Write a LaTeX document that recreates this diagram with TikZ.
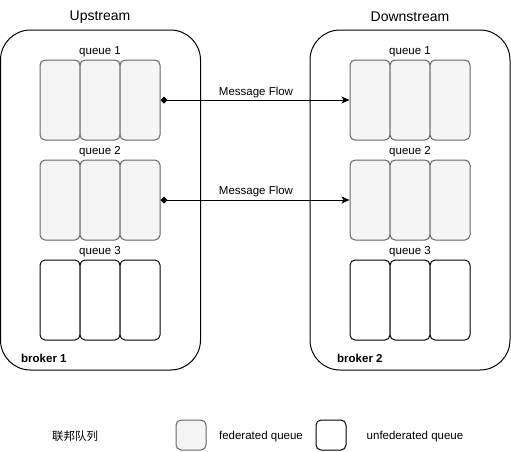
\documentclass[tikz,border=0pt]{standalone}
\usepackage{fontspec}
\setmainfont{Liberation Sans}
\newfontfamily\cjk{Noto Sans CJK SC}
\usetikzlibrary{arrows.meta}
\definecolor{fedfill}{HTML}{F5F5F5}
\definecolor{fedline}{HTML}{666666}
\tikzset{
  broker/.style={draw=black, line width=1pt, rounded corners=30pt, minimum width=200pt, minimum height=340pt, inner sep=0pt},
  fedq/.style={draw=fedline, fill=fedfill, line width=1pt, rounded corners=5pt, minimum width=40pt, minimum height=80pt, inner sep=0pt},
  unfedq/.style={draw=black, fill=white, line width=1pt, rounded corners=5pt, minimum width=40pt, minimum height=80pt, inner sep=0pt},
  legfed/.style={draw=fedline, fill=fedfill, line width=1pt, rounded corners=5pt, minimum width=30pt, minimum height=30pt, inner sep=0pt},
  legunfed/.style={draw=black, fill=white, line width=1pt, rounded corners=5pt, minimum width=30pt, minimum height=30pt, inner sep=0pt},
  lbl/.style={font=\fontsize{11.5}{13}\selectfont, inner sep=0pt},
  title/.style={font=\fontsize{14}{16}\selectfont, inner sep=0pt},
  blbl/.style={font=\fontsize{11.5}{13}\selectfont\bfseries, inner sep=0pt, anchor=west},
  flow/.style={draw=black, line width=1pt, {Diamond[length=7pt,width=7pt]}-{Stealth[length=8pt,width=7pt,inset=2pt]}},
}
\begin{document}
\begin{tikzpicture}[x=1pt,y=-1pt]
\useasboundingbox (0,0) rectangle (511,451);
% brokers
\node[broker] (b1) at (100.5,200) {};
\node[broker] (b2) at (410,200) {};
\node[title] (up) at (100,17) {Upstream};
\node[title] (down) at (410,17) {Downstream};
\node[blbl] (b1l) at (21,358) {broker 1};
\node[blbl] (b2l) at (337,358) {broker 2};
% left queues
\node[fedq] (l1a) at (60,100) {};
\node[fedq] (l1b) at (100,100) {};
\node[fedq] (l1c) at (140,100) {};
\node[fedq] (l2a) at (60,200) {};
\node[fedq] (l2b) at (100,200) {};
\node[fedq] (l2c) at (140,200) {};
\node[unfedq] (l3a) at (60,300) {};
\node[unfedq] (l3b) at (100,300) {};
\node[unfedq] (l3c) at (140,300) {};
\node[lbl] (lq1) at (100,51.5) {queue 1};
\node[lbl] (lq2) at (100,151.5) {queue 2};
\node[lbl] (lq3) at (100,251.5) {queue 3};
% right queues
\node[fedq] (r1a) at (370,100) {};
\node[fedq] (r1b) at (410,100) {};
\node[fedq] (r1c) at (450,100) {};
\node[fedq] (r2a) at (370,200) {};
\node[fedq] (r2b) at (410,200) {};
\node[fedq] (r2c) at (450,200) {};
\node[unfedq] (r3a) at (370,300) {};
\node[unfedq] (r3b) at (410,300) {};
\node[unfedq] (r3c) at (450,300) {};
\node[lbl] (rq1) at (410,51.5) {queue 1};
\node[lbl] (rq2) at (410,151.5) {queue 2};
\node[lbl] (rq3) at (410,251.5) {queue 3};
% flows
\draw[flow] (l1c.east) -- (r1a.west);
\draw[flow] (l2c.east) -- (r2a.west);
\node[lbl] (m1) at (256,92.5) {Message Flow};
\node[lbl] (m2) at (256,191.5) {Message Flow};
% legend
\node[lbl, font=\cjk\fontsize{11.5}{13}\selectfont] (leg) at (75,436) {联邦队列};
\node[legfed] (lf) at (191,435) {};
\node[lbl] (lft) at (261,437) {federated queue};
\node[legunfed] (lu) at (331,435) {};
\node[lbl] (lut) at (415,437) {unfederated queue};
\end{tikzpicture}
\end{document}
